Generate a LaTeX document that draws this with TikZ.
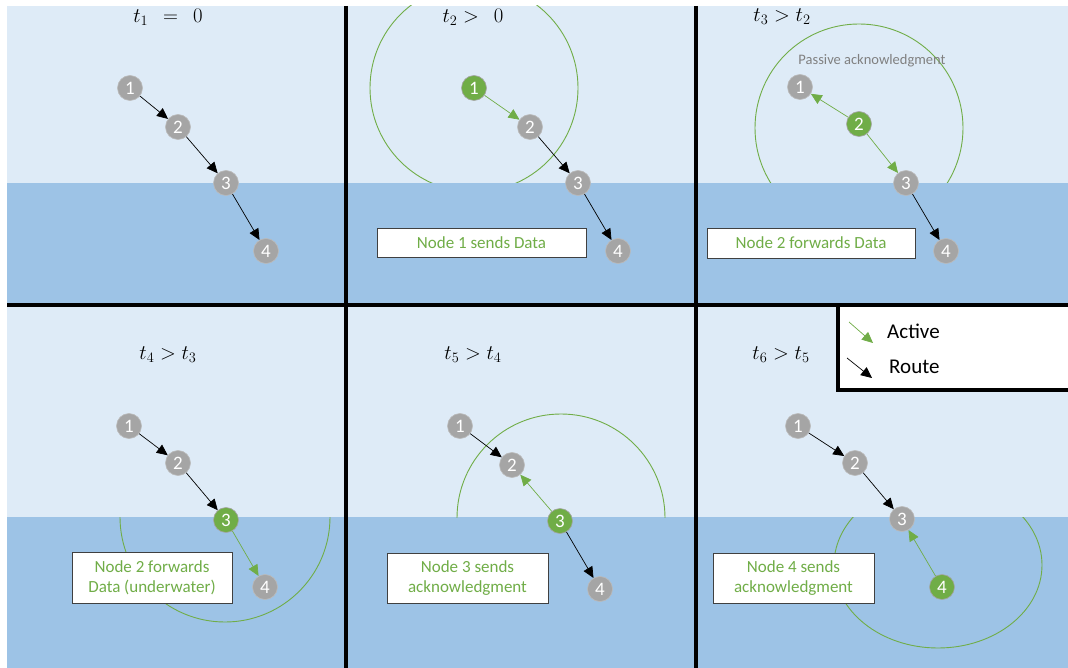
\documentclass[tikz,border=0pt]{standalone}
\usepackage{fontspec}
\setmainfont{Carlito}
\usetikzlibrary{arrows.meta}
\definecolor{sky}{HTML}{DEEBF7}
\definecolor{water}{HTML}{9DC3E6}
\definecolor{grn}{HTML}{70AD47}
\definecolor{gnode}{HTML}{A5A5A5}
\tikzset{
 nd/.style={circle, fill=gnode, draw=gnode!75!white, line width=0.6pt, minimum size=25pt, inner sep=0pt, text=white, font=\fontsize{19}{19}\selectfont},
 act/.style={nd, fill=grn, draw=gnode},
 route/.style={-{Triangle[length=11pt,width=10pt]}, line width=0.7pt, draw=black},
 actarr/.style={route, draw=grn},
 rangecirc/.style={draw=grn, line width=0.9pt},
 info/.style={draw=black!75, line width=0.8pt, fill=white, text=grn, font=\fontsize{17}{20}\selectfont, align=center, inner sep=0pt},
 ttl/.style={font=\fontsize{21}{21}\selectfont},
 divider/.style={line width=3.5pt, draw=black},
 legtxt/.style={font=\fontsize{21}{21}\selectfont, anchor=west, inner sep=0pt},
}
\begin{document}
\begin{tikzpicture}[x=1pt,y=-1pt]
\useasboundingbox (0,0) rectangle (1068,668);
% backgrounds
\fill[sky] (7,6) rectangle (1068,668);
\fill[water] (7,183) rectangle (1068,305);
\fill[water] (7,517) rectangle (1068,668);
% ranges
\begin{scope}
 \clip (346,6) rectangle (695,183);
 \draw[rangecirc] (474,88) circle[radius=104];
\end{scope}
\begin{scope}
 \clip (696,6) rectangle (1068,183);
 \draw[rangecirc] (859,128) circle[radius=104];
\end{scope}
\begin{scope}
 \clip (7,517) rectangle (346,668);
 \draw[rangecirc] (225,517) circle[radius=105];
\end{scope}
\begin{scope}
 \clip (346,305) rectangle (695,517);
 \draw[rangecirc] (561,518) circle[radius=104];
\end{scope}
\begin{scope}
 \clip (696,517) rectangle (1068,668);
 \draw[rangecirc] (938,565) ellipse[x radius=104, y radius=83];
\end{scope}
% dividers
\draw[divider] (7,305) -- (1068,305);
\draw[divider] (346,6) -- (346,668);
\draw[divider] (696,6) -- (696,668);
% titles
\node[ttl] (T1) at (168,17) {$t_1\;\,=\;\,0$};
\node[ttl] (T2) at (473,17) {$t_2 >\;\,0$};
\node[ttl] (T3) at (782,17) {$t_3 > t_2$};
\node[ttl] (T4) at (168,355) {$t_4 > t_3$};
\node[ttl] (T5) at (473,355) {$t_5 > t_4$};
\node[ttl] (T6) at (781,355) {$t_6 > t_5$};
% panel 1
\node[nd] (a1) at (130,88) {1};
\node[nd] (a2) at (178,127) {2};
\node[nd] (a3) at (226,183) {3};
\node[nd] (a4) at (266,251) {4};
\draw[route] (a1) -- (a2);
\draw[route] (a2) -- (a3);
\draw[route] (a3) -- (a4);
% panel 2
\node[act] (b1) at (474,88) {1};
\node[nd] (b2) at (530,127) {2};
\node[nd] (b3) at (578,183) {3};
\node[nd] (b4) at (618,251) {4};
\draw[actarr] (b1) -- (b2);
\draw[route] (b2) -- (b3);
\draw[route] (b3) -- (b4);
\node[info, minimum width=209pt, minimum height=29pt] (B) at (481.5,242.5) {Node 1 sends Data};
% panel 3
\node[nd] (c1) at (800,87) {1};
\node[act] (c2) at (859,124) {2};
\node[nd] (c3) at (906,183) {3};
\node[nd] (c4) at (946,251) {4};
\draw[actarr] (c2) -- (c1);
\draw[actarr] (c2) -- (c3);
\draw[route] (c3) -- (c4);
\node[text=black!50, font=\fontsize{14.5}{14.5}\selectfont] (P) at (872,61) {Passive acknowledgment};
\node[info, minimum width=208pt, minimum height=30pt] (C) at (811,243) {Node 2 forwards Data};
% panel 4
\node[nd] (d1) at (129,426) {1};
\node[nd] (d2) at (178,463) {2};
\node[act] (d3) at (226,520) {3};
\node[nd] (d4) at (265,587) {4};
\draw[route] (d1) -- (d2);
\draw[route] (d2) -- (d3);
\draw[actarr] (d3) -- (d4);
\node[info, minimum width=160pt, minimum height=51pt] (D) at (152,577.5) {Node 2 forwards\\Data (underwater)};
% panel 5
\node[nd] (e1) at (460,426) {1};
\node[nd] (e2) at (512,465) {2};
\node[act] (e3) at (560,521) {3};
\node[nd] (e4) at (600,589) {4};
\draw[route] (e1) -- (e2);
\draw[actarr] (e3) -- (e2);
\draw[route] (e3) -- (e4);
\node[info, minimum width=161pt, minimum height=50pt] (E) at (467.5,578) {Node 3 sends\\acknowledgment};
% panel 6
\node[nd] (f1) at (798,426) {1};
\node[nd] (f2) at (855,463) {2};
\node[nd] (f3) at (902,519) {3};
\node[act] (f4) at (942,587) {4};
\draw[route] (f1) -- (f2);
\draw[route] (f2) -- (f3);
\draw[actarr] (f4) -- (f3);
\node[info, minimum width=161pt, minimum height=50pt] (F) at (793.5,578) {Node 4 sends\\acknowledgment};
% legend
\draw[line width=3.5pt, fill=white] (1072,305) -- (838,305) -- (838,390) -- (1072,390);
\coordinate (la1) at (849,322);
\coordinate (la2) at (873,343);
\coordinate (lr1) at (847,358);
\coordinate (lr2) at (872,378);
\draw[actarr] (la1) -- (la2);
\draw[route] (lr1) -- (lr2);
\node[legtxt] (LA) at (887,331) {Active};
\node[legtxt] (LR) at (889,367) {Route};
\end{tikzpicture}
\end{document}
